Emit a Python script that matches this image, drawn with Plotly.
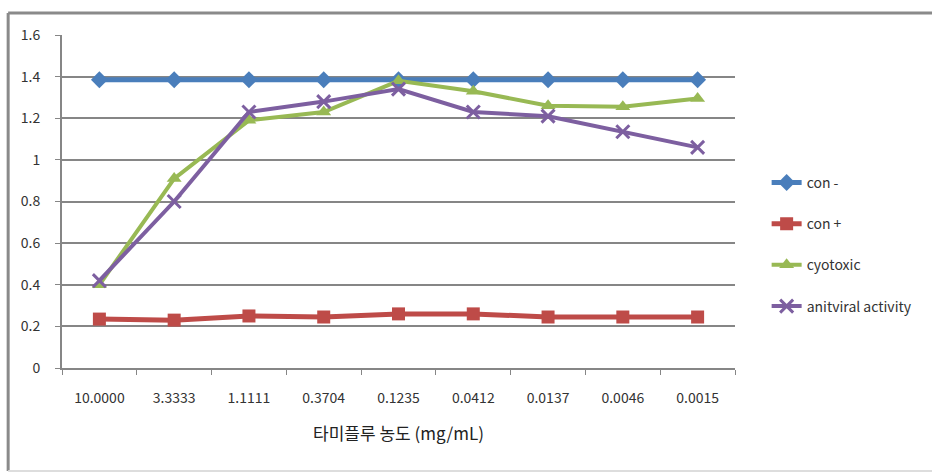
import plotly.graph_objects as go

categories = ["10.0000", "3.3333", "1.1111", "0.3704", "0.1235", "0.0412", "0.0137", "0.0046", "0.0015"]
con_minus = [1.385, 1.385, 1.385, 1.385, 1.385, 1.385, 1.385, 1.385, 1.385]
con_plus = [0.235, 0.23, 0.25, 0.245, 0.26, 0.26, 0.245, 0.245, 0.245]
cyotoxic = [0.40, 0.91, 1.19, 1.23, 1.38, 1.33, 1.26, 1.255, 1.295]
antiviral = [0.42, 0.80, 1.23, 1.28, 1.34, 1.23, 1.21, 1.135, 1.06]
y_ticks = [0, 0.2, 0.4, 0.6, 0.8, 1, 1.2, 1.4, 1.6]
y_tick_labels = ["0", "0.2", "0.4", "0.6", "0.8", "1", "1.2", "1.4", "1.6"]

series = [
    ("con -", con_minus, "#4A7EBB", "diamond", 13, 5),
    ("con +", con_plus, "#BE4B48", "square", 13, 5),
    ("cyotoxic", cyotoxic, "#98B954", "triangle-up", 13, 4),
    ("anitviral activity", antiviral, "#7D5FA0", "x-thin-open", 13, 4),
]

fig = go.Figure()
for name, vals, color, sym, size, lw in series:
    marker = dict(symbol=sym, size=size, color=color)
    if sym == "x-thin-open":
        marker["line"] = dict(color=color, width=3)
    fig.add_trace(go.Scatter(
        x=categories, y=vals, name=name, mode="lines+markers",
        line=dict(color=color, width=lw), marker=marker, legendgroup=name,
    ))

border = dict(color="#8a8a8a", width=3)
font_family = "Noto Sans CJK KR, Noto Sans, sans-serif"
fig.update_layout(
    width=932, height=473,
    margin=dict(l=62, r=197, t=35, b=105),
    paper_bgcolor="white", plot_bgcolor="white",
    font=dict(family=font_family, size=14, color="#333333"),
    showlegend=True,
    legend=dict(x=1.047, y=0.604, xanchor="left", yanchor="top",
                traceorder="grouped", tracegroupgap=20,
                font=dict(size=14, color="#333333"), itemwidth=30,
                bgcolor="rgba(0,0,0,0)"),
    xaxis=dict(type="category", range=[-0.5, 8.5], showgrid=False,
               showline=True, linecolor="#868686", linewidth=2,
               ticks="outside", tickson="boundaries", ticklen=5, tickcolor="#868686",
               ticklabelstandoff=16,
               tickfont=dict(size=14, color="#333333"),
               title=dict(text="타미플루 농도 (mg/mL)", font=dict(size=17, color="#222222"), standoff=22)),
    yaxis=dict(range=[0, 1.6], tickvals=y_ticks, ticktext=y_tick_labels,
               showgrid=True, gridcolor="#868686", gridwidth=2,
               showline=True, linecolor="#868686", linewidth=2,
               ticks="outside", ticklen=5, tickcolor="#868686",
               ticklabelstandoff=12,
               tickfont=dict(size=14, color="#333333"), zeroline=False),
    shapes=[
        dict(type="line", xref="paper", yref="paper", x0=-0.080, x1=1.40, y0=1.066, y1=1.066, line=border, layer="below"),
        dict(type="line", xref="paper", yref="paper", x0=-0.080, x1=-0.080, y0=-0.309, y1=1.066, line=border, layer="below"),
        dict(type="line", xref="paper", yref="paper", x0=-0.080, x1=1.40, y0=-0.309, y1=-0.309,
             line=dict(color="#dddddd", width=2), layer="below"),
    ],
)

fig.write_html(
    "out.html",
    config={"displayModeBar": False},
    post_script="document.body.style.margin='0';document.body.style.overflow='hidden';",
)
